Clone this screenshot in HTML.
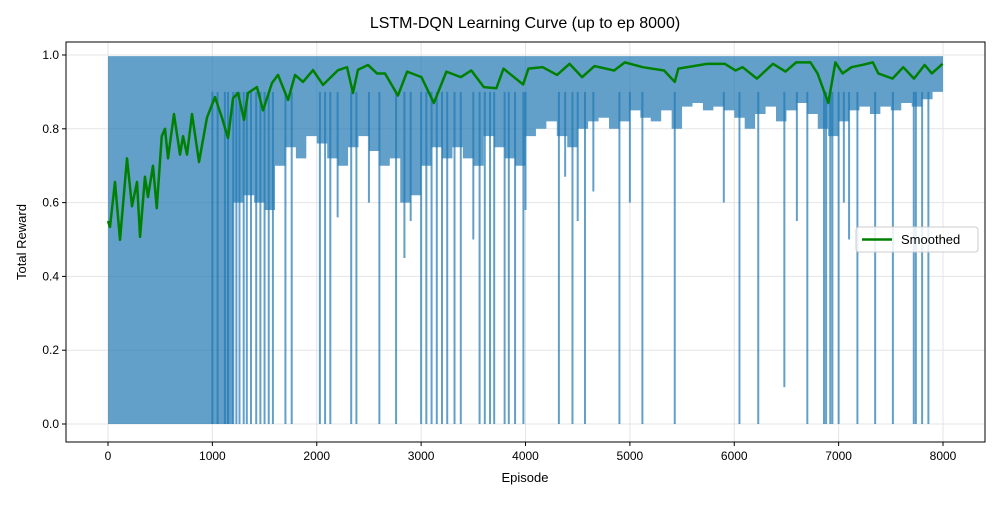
<!DOCTYPE html>
<html><head><meta charset="utf-8"><style>
body{margin:0;background:#fff;font-family:"Liberation Sans","DejaVu Sans",sans-serif}
svg text{font-family:"Liberation Sans","DejaVu Sans",sans-serif}
</style></head><body>
<svg id="chart" width="1000" height="500" viewBox="0 0 1000 500">
<rect width="1000" height="500" fill="#fff"/>
<text x="525" y="28" font-size="16" text-anchor="middle">LSTM-DQN Learning Curve (up to ep 8000)</text>
<g id="grid"></g><g id="raw"></g><g id="smooth"></g><g id="axes"></g>
<text x="525" y="482" font-size="13" text-anchor="middle">Episode</text>
<text transform="translate(26,242) rotate(-90)" font-size="13" text-anchor="middle">Total Reward</text>
<g>
<rect x="856" y="227" width="122" height="25" rx="3" fill="#fff" fill-opacity="0.85" stroke="#ccc"/>
<line x1="862" y1="239.5" x2="892" y2="239.5" stroke="green" stroke-width="2.5"/>
<text x="901" y="244" font-size="13">Smoothed</text>
</g>
</svg>
<script>
const xTicks=[0,1000,2000,3000,4000,5000,6000,7000,8000];
const yTicks=[0,0.2,0.4,0.6,0.8,1.0];
const yTickLabels=["0.0","0.2","0.4","0.6","0.8","1.0"];
const rawBinStarts=[0,100,200,300,400,500,600,700,800,900,1000,1100,1200,1300,1400,1500,1600,1700,1800,1900,2000,2100,2200,2300,2400,2500,2600,2700,2800,2900,3000,3100,3200,3300,3400,3500,3600,3700,3800,3900,4000,4100,4200,4300,4400,4500,4600,4700,4800,4900,5000,5100,5200,5300,5400,5500,5600,5700,5800,5900,6000,6100,6200,6300,6400,6500,6600,6700,6800,6900,7000,7100,7200,7300,7400,7500,7600,7700,7800,7900,8000];
const rawLower=[0,0,0,0,0,0,0,0,0,0,0,0,0.6,0.62,0.6,0.58,0.7,0.75,0.72,0.78,0.76,0.72,0.7,0.75,0.78,0.74,0.7,0.72,0.6,0.62,0.7,0.75,0.72,0.75,0.72,0.7,0.78,0.75,0.72,0.7,0.78,0.8,0.82,0.78,0.75,0.8,0.82,0.83,0.8,0.82,0.85,0.83,0.82,0.85,0.8,0.86,0.87,0.85,0.86,0.85,0.83,0.8,0.84,0.86,0.82,0.85,0.87,0.84,0.8,0.78,0.82,0.85,0.86,0.84,0.86,0.85,0.87,0.86,0.88,0.9,0.9];
const rawUpper=0.997;
const dipEpisodes=[1000,1050,1120,1150,1200,1230,1260,1300,1330,1370,1420,1460,1500,1540,1580,1700,1760,2030,2080,2130,2200,2330,2380,2500,2600,2760,2840,2900,3000,3050,3100,3150,3200,3250,3320,3380,3500,3560,3610,3660,3700,3800,3840,3900,3980,4000,4320,4380,4450,4500,4570,4650,4900,5000,5120,5430,5900,6050,6230,6480,6600,6700,6860,6880,6920,6940,7000,7050,7100,7180,7350,7520,7720,7740,7800,7860];
const dipValues=[0,0,0,0,0,0,0,0,0,0,0,0,0,0,0,0,0,0,0,0,0.56,0,0,0.6,0,0,0.45,0.55,0,0,0,0,0,0,0,0,0.5,0,0,0,0,0,0,0,0,0.58,0,0.67,0,0.55,0,0.63,0,0.6,0,0,0.6,0,0,0.1,0.55,0,0,0,0,0,0,0.6,0.5,0,0,0,0,0,0,0];
const smoothEp=[0,19,67,115,182,230,278,307,354,383,431,467,515,546,575,632,690,719,757,805,872,948,1025,1092,1150,1198,1246,1303,1341,1427,1485,1571,1629,1725,1792,1868,1964,2060,2204,2290,2347,2395,2491,2577,2654,2778,2866,3003,3122,3242,3379,3481,3601,3721,3789,3977,4028,4165,4302,4422,4542,4661,4849,4952,5123,5328,5430,5464,5738,5909,6012,6080,6217,6371,6491,6593,6730,6798,6901,6969,7038,7123,7226,7328,7380,7516,7619,7722,7824,7893,7996];
const smoothVal=[0.55,0.534,0.656,0.499,0.72,0.59,0.656,0.507,0.67,0.615,0.70,0.585,0.78,0.80,0.72,0.84,0.73,0.78,0.73,0.84,0.71,0.83,0.886,0.83,0.775,0.883,0.897,0.824,0.897,0.913,0.85,0.924,0.946,0.878,0.946,0.927,0.959,0.919,0.959,0.967,0.897,0.96,0.973,0.95,0.95,0.89,0.955,0.94,0.87,0.955,0.94,0.958,0.913,0.91,0.963,0.92,0.963,0.967,0.946,0.976,0.94,0.97,0.958,0.98,0.967,0.958,0.927,0.963,0.976,0.976,0.958,0.967,0.936,0.976,0.955,0.98,0.98,0.95,0.87,0.98,0.95,0.967,0.973,0.98,0.95,0.936,0.967,0.936,0.973,0.95,0.976];

const NS="http://www.w3.org/2000/svg";
const L=66,R=985,T=42,B=442;
const sx=v=>108+v*(943-108)/8000;
const sy=v=>424-v*(424-55);
function mk(tag,attrs,parent){const e=document.createElementNS(NS,tag);for(const k in attrs)e.setAttribute(k,attrs[k]);document.getElementById(parent).appendChild(e);return e;}

xTicks.forEach(t=>{
  const g=mk('line',{x1:sx(t),x2:sx(t),y1:T,y2:B,stroke:'#e5e5e5','stroke-width':1},'grid');
  
  
  const tk=mk('line',{x1:sx(t),x2:sx(t),y1:B,y2:B+4,stroke:'#000'},'axes');
  
  
  const tx=mk('text',{x:sx(t),y:B+18,'font-size':12,'text-anchor':'middle'},'axes');
  tx.textContent=t;
  
  
});
yTicks.forEach((t,i)=>{
  const g=mk('line',{x1:L,x2:R,y1:sy(t),y2:sy(t),stroke:'#e5e5e5','stroke-width':1},'grid');
  
  
  const tk=mk('line',{x1:L-4,x2:L,y1:sy(t),y2:sy(t),stroke:'#000'},'axes');
  
  
  const tx=mk('text',{x:L-7,y:sy(t)+4,'font-size':12,'text-anchor':'end'},'axes');
  tx.textContent=yTickLabels[i];
  
  
});
const frame=mk('rect',{x:L,y:T,width:R-L,height:B-T,fill:'none',stroke:'#000','stroke-width':1},'axes');



let pts=[];
rawBinStarts.forEach(e=>pts.push(sx(e)+','+sy(rawUpper)));
for(let i=rawBinStarts.length-1;i>=0;i--){
  const x0=sx(rawBinStarts[i]);const x1=sx(Math.min(rawBinStarts[i]+100,8000));
  pts.push(x1+','+sy(rawLower[i]));pts.push(x0+','+sy(rawLower[i]));
}
const band=mk('polygon',{points:pts.join(' '),fill:'#1f77b4','fill-opacity':0.7},'raw');


dipEpisodes.forEach((e,i)=>{
  const d=mk('line',{x1:sx(e),x2:sx(e),y1:sy(0.9),y2:sy(dipValues[i]),stroke:'#1f77b4','stroke-opacity':0.7,'stroke-width':2},'raw');
  
  
});
const sl=mk('polyline',{points:smoothEp.map((e,i)=>sx(e)+','+sy(smoothVal[i])).join(' '),fill:'none',stroke:'green','stroke-width':2.5,'stroke-linejoin':'round'},'smooth');


</script>
</body></html>
